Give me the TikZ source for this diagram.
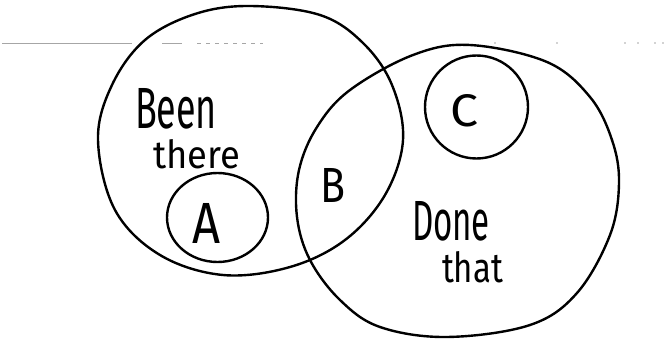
\documentclass[tikz,border=0pt]{standalone}
\usepackage{fontspec}
\usepackage{graphicx}
\IfFontExistsTF{FiraSans-Light.otf}{\setmainfont{FiraSans-Light.otf}}{\setmainfont{Fira Sans}}
\tikzset{
  pen/.style={line width=2.4pt, line join=round, line cap=round},
  hand/.style={inner sep=0pt, outer sep=0pt, anchor=base west},
  speck/.style={line width=0.9pt, gray!70},
}
\begin{document}
\begin{tikzpicture}[x=1pt,y=-1pt]
\useasboundingbox (0,0) rectangle (669,342);
% scan artefacts along the top
\draw[speck] (2,43) -- (132,43);
\draw[speck] (162,43) -- (182,43);
\draw[speck, dash pattern=on 4pt off 5pt] (197,43) -- (263,43);
\foreach \xx in {495,557,625,638,655,663} \fill[gray!70] (\xx,43) circle (0.8pt);
% big sets
\draw[pen] plot[smooth cycle, tension=0.6] coordinates {
 (250,6) (320,15) (363,43) (392,85) (403,140) (385,195) (345,240) (290,267)
 (223,275) (160,255) (115,210) (98,140) (112,85) (145,40) (195,14)};
\draw[pen] plot[smooth cycle, tension=0.6] coordinates {
 (470,45) (547,62) (590,97) (612,140) (619,183) (610,235) (577,293) (530,325)
 (447,337) (380,327) (340,300) (310,260) (297,217) (299,170) (317,127) (350,90) (413,55)};
% small sets
\draw[pen] (476.5,107) ellipse [x radius=51.5, y radius=51.5];
\draw[pen] (217.5,217.5) ellipse [x radius=50.5, y radius=44.5];
% labels
\node[hand] (been)  at (135,129) {\resizebox{82pt}{40pt}{Been}};
\node[hand] (there) at (153,168) {\resizebox{87pt}{29pt}{there}};
\node[hand] (b)     at (320,202) {\resizebox{25pt}{34pt}{B}};
\node[hand] (a)     at (192,243) {\resizebox{28pt}{40pt}{A}};
\node[hand] (c)     at (450,127) {\resizebox{28pt}{32pt}{C}};
\node[hand] (done)  at (412,240) {\resizebox{78pt}{39pt}{Done}};
\node[hand] (that)  at (442,282) {\resizebox{61pt}{31pt}{that}};
\end{tikzpicture}
\end{document}
